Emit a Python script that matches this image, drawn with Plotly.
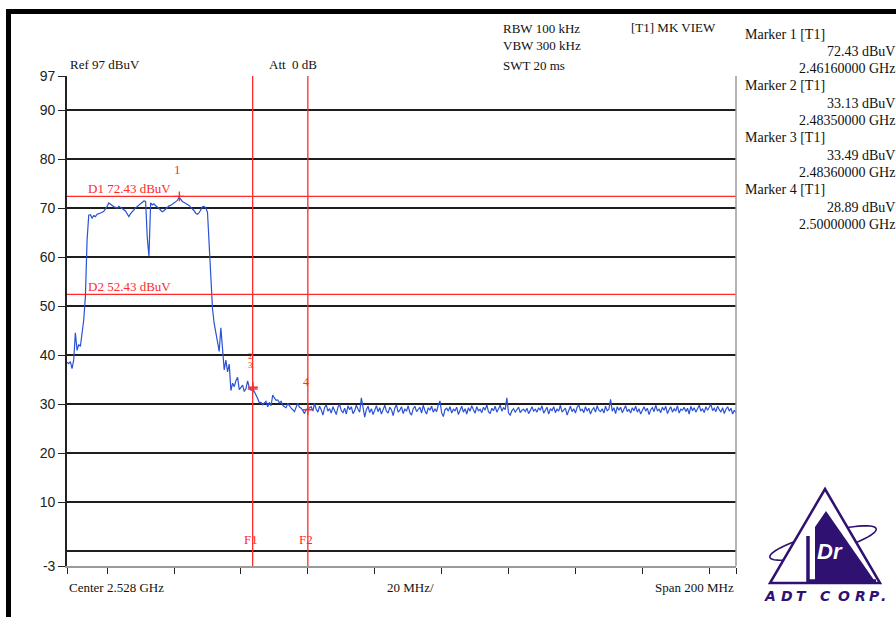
import numpy as np
import plotly.graph_objects as go

# ---------------- sweep data ----------------
center_ghz = 2.528
span_ghz = 0.200
step_ghz = 0.0005
start_ghz = center_ghz - span_ghz / 2

# trace level (dBuV), one value every 0.5 MHz from 2.428 GHz to 2.628 GHz
levels_dbuv = [
    38.6, 38.3, 38.7, 37.3, 39.0, 44.6, 41.0, 42.2, 41.8, 44.5,
    47.2, 52.0, 63.5, 68.6, 68.7, 68.0, 68.5, 68.3, 68.8, 68.9,
    69.0, 69.2, 69.4, 69.8, 70.4, 71.1, 70.8, 70.7, 70.3, 70.2,
    70.0, 70.4, 70.2, 70.0, 69.7, 69.4, 68.7, 68.3, 68.9, 69.4,
    69.7, 70.1, 70.4, 70.6, 70.9, 71.2, 71.5, 71.4, 64.0, 60.2,
    71.1, 70.7, 70.9, 70.5, 70.3, 70.0, 69.6, 69.3, 69.5, 69.9,
    70.3, 70.5, 70.6, 70.9, 71.1, 71.4, 71.6, 72.3, 71.8, 71.4,
    71.2, 71.0, 70.8, 70.6, 70.2, 69.9, 69.5, 69.0, 68.8, 69.1,
    69.6, 70.3, 70.4, 70.0, 69.2, 63.0, 55.0, 49.5, 46.5, 44.6,
    43.2, 40.8, 45.6, 41.0, 37.0, 39.0, 36.6, 38.2, 32.8, 34.3,
    33.6, 34.8, 35.5, 33.0, 33.6, 33.9, 32.6, 33.2, 34.8, 33.4,
    32.9, 33.1, 32.6, 32.0, 31.2, 30.3, 30.4, 29.9, 30.2, 30.6,
    29.5, 30.4, 29.7, 31.9, 31.3, 30.8, 30.9, 30.3, 30.6, 29.8,
    29.5, 29.3, 30.2, 29.6, 29.2, 28.9, 28.5, 29.4, 30.2, 29.4,
    29.2, 28.7, 28.1, 29.0, 28.9, 29.3, 29.5, 28.6, 30.2, 29.0,
    28.4, 29.6, 28.9, 27.8, 29.3, 29.9, 28.6, 29.1, 28.2, 29.5,
    28.8, 27.9, 29.4, 30.0, 28.7, 28.3, 29.2, 28.0, 29.7, 28.9,
    29.5, 28.1, 28.7, 29.8, 29.0, 28.4, 31.3, 28.8, 27.4, 28.9,
    29.6, 28.3, 29.1, 27.9, 28.8, 29.7, 28.5, 29.3, 28.0, 29.0,
    29.8, 28.6, 28.2, 29.4, 28.9, 27.7, 29.2, 29.9, 28.4, 28.8,
    29.5, 28.1, 29.0, 28.6, 29.7, 28.3, 27.8, 29.1, 29.6, 28.5,
    28.9, 29.4, 28.2, 29.8, 28.7, 28.0, 29.3, 28.8, 29.6, 28.4,
    29.1, 28.5, 29.9, 30.7, 28.3, 27.5, 28.9, 29.2, 28.6, 29.5,
    28.2, 29.0, 28.7, 29.4, 27.9, 28.8, 29.6, 28.4, 29.1, 28.0,
    29.3, 28.6, 29.7, 28.9, 28.2, 29.5, 28.7, 29.0, 28.3, 29.4,
    28.8, 29.9, 28.5, 28.1, 29.2, 28.7, 29.6, 28.4, 29.0, 29.8,
    28.6, 29.3, 28.9, 31.3, 28.2, 27.8, 28.7, 29.1, 28.4, 28.9,
    29.4, 28.3, 28.8, 29.0, 28.5, 29.2, 28.1, 28.7, 29.5, 28.6,
    29.0, 28.4, 29.3, 28.8, 29.7, 28.2, 28.9, 29.4, 28.0, 29.1,
    28.7, 29.5, 28.3, 29.0, 28.6, 29.8, 28.4, 28.9, 29.2, 27.8,
    28.8, 29.6, 28.5, 29.1, 28.2, 29.4, 29.9, 28.7, 29.0, 28.3,
    29.5, 28.6, 29.2, 28.0, 28.9, 29.3, 28.4, 29.7, 28.8, 28.5,
    29.1, 28.2, 29.6, 28.7, 29.0, 31.0, 28.6, 29.3, 28.1, 29.5,
    28.8, 29.4, 28.3, 28.9, 29.7, 28.5, 29.0, 28.2, 29.3, 28.7,
    29.6, 28.4, 29.1, 28.0, 28.8, 29.5, 28.6, 29.2, 27.9, 28.9,
    29.3, 28.5, 29.8, 28.7, 29.0, 28.3, 29.4, 28.8, 29.6, 28.1,
    28.9, 29.5, 28.4, 29.1, 28.6, 29.7, 28.2, 29.0, 28.8, 29.4,
    28.5, 29.2, 28.0, 29.6, 28.7, 29.3, 28.4, 29.0, 29.8, 28.6,
    29.1, 28.3, 29.5, 28.8, 29.4, 30.0, 28.7, 29.2, 28.5, 29.6,
    28.9, 28.4, 29.3, 28.1, 29.0, 29.5, 28.6, 29.2, 28.0, 28.8,
    28.3,
]
assert len(levels_dbuv) == 401
freq_ghz = start_ghz + step_ghz * np.arange(len(levels_dbuv))

# markers
marker_names = ["1", "2", "3", "4"]
marker_freq_ghz = [2.4616, 2.4835, 2.4836, 2.5000]
marker_level_dbuv = [72.43, 33.13, 33.49, 28.89]

# display lines and frequency lines
display_line_names = ["D1", "D2"]
display_line_dbuv = [72.43, 52.43]
freq_line_names = ["F1", "F2"]
freq_line_ghz = [2.4835, 2.5000]

# axes
y_range = [-3, 97]
y_tick_vals = [-3, 10, 20, 30, 40, 50, 60, 70, 80, 90, 97]
x_tick_vals = [2.428, 2.44, 2.46, 2.48, 2.50, 2.52, 2.54, 2.56, 2.58, 2.60, 2.62, 2.628]

# ---------------- page geometry ----------------
W, H = 896, 617
L, R, T, B = 67, 160, 76, 51
PW, PH = W - L - R, H - T - B


def px(x):
    return (x - L) / PW


def py(y):
    return (H - B - y) / PH


RED = "#ff2a2a"
BLUE = "#2a52d6"
GRID = "#1e1e1e"
PURPLE = "#2e1170"
SERIF = "Liberation Serif, Times New Roman, serif"
SANS = "Liberation Sans, Arial, sans-serif"

fig = go.Figure()

fig.add_trace(go.Scatter(
    x=freq_ghz, y=levels_dbuv, mode="lines",
    line=dict(color=BLUE, width=1.2), hoverinfo="skip", showlegend=False,
))

fig.add_trace(go.Scatter(
    x=marker_freq_ghz, y=marker_level_dbuv, mode="markers",
    marker=dict(symbol="cross-thin", size=7, line=dict(color=RED, width=1.4)),
    hoverinfo="skip", showlegend=False,
))

shapes = []
annotations = []

# horizontal display lines with labels
for name, lvl in zip(display_line_names, display_line_dbuv):
    shapes.append(dict(type="line", xref="paper", yref="y", x0=0, x1=1, y0=lvl, y1=lvl,
                       line=dict(color=RED, width=1.3), layer="above"))
    annotations.append(dict(text=f"{name} {lvl:.2f} dBuV", xref="paper", yref="y",
                            x=px(86), y=lvl, xanchor="left", yanchor="middle", yshift=8,
                            showarrow=False, font=dict(family=SERIF, size=13, color=RED)))

# vertical frequency lines with labels
for name, f in zip(freq_line_names, freq_line_ghz):
    shapes.append(dict(type="line", xref="x", yref="paper", x0=f, x1=f, y0=0, y1=1,
                       line=dict(color=RED, width=1.3), layer="above"))
    annotations.append(dict(text=name, xref="x", yref="paper", x=f, y=py(539),
                            xanchor="center", yanchor="middle", xshift=-2,
                            showarrow=False, font=dict(family=SERIF, size=13, color=RED)))

# marker numbers above the marker points
label_shift = {"1": 27, "2": 33, "3": 22, "4": 28}
label_size = {"1": 13, "2": 9, "3": 9, "4": 12}
for name, f, lvl in zip(marker_names, marker_freq_ghz, marker_level_dbuv):
    annotations.append(dict(text=name, xref="x", yref="y", x=f, y=lvl,
                            xanchor="center", yanchor="middle", yshift=label_shift[name], xshift=-2,
                            showarrow=False, font=dict(family=SERIF, size=label_size[name], color=RED)))

# right-hand border of the graticule
shapes.append(dict(type="line", xref="paper", yref="paper", x0=1, x1=1, y0=0, y1=1,
                   line=dict(color="#9a9a9a", width=1.5), layer="above"))

# black page frame
shapes.append(dict(type="rect", xref="paper", yref="paper", x0=px(6), x1=px(W), y0=py(14), y1=py(9),
                   fillcolor="black", line=dict(width=0)))
shapes.append(dict(type="rect", xref="paper", yref="paper", x0=px(6), x1=px(11), y0=py(H), y1=py(9),
                   fillcolor="black", line=dict(width=0)))


def text(t, x, y, xanchor="left", size=13, color="#111", family=SERIF, **kw):
    annotations.append(dict(text=t, xref="paper", yref="paper", x=px(x), y=py(y),
                            xanchor=xanchor, yanchor="middle", showarrow=False,
                            font=dict(family=family, size=size, color=color), **kw))


# instrument settings
text("Ref 97 dBuV", 68, 65)
text("Att  0 dB", 267, 65)
text("RBW 100 kHz", 501, 29)
text("VBW 300 kHz", 501, 46)
text("SWT 20 ms", 501, 66)
text("[T1] MK VIEW", 629, 28)

# marker readout column
row = 0
for name, f, lvl in zip(marker_names, marker_freq_ghz, marker_level_dbuv):
    y0 = 34 + 17.3 * row
    text(f"Marker {name} [T1]", 743, y0, size=14)
    text(f"{lvl:.2f} dBuV", 897, y0 + 17.3, xanchor="right", size=14)
    text(f"{f:.8f} GHz", 897, y0 + 34.6, xanchor="right", size=14)
    row += 3

# frequency axis captions
text("Center 2.528 GHz", 67, 587, size=13)
text("20 MHz/", 410, 587, xanchor="center", size=13)
text("Span 200 MHz", 736, 587, xanchor="right", size=13)

# ---------------- logo ----------------
th = np.deg2rad(15)
t = np.linspace(0, 2 * np.pi, 73)
ex = 823 + 55 * np.cos(t) * np.cos(th) - 10 * np.sin(t) * np.sin(th)
ey = 543 - (55 * np.cos(t) * np.sin(th) + 10 * np.sin(t) * np.cos(th))
orbit = "M " + " L ".join(f"{px(a):.5f},{py(b):.5f}" for a, b in zip(ex, ey)) + " Z"
shapes.append(dict(type="path", xref="paper", yref="paper", path=orbit,
                   line=dict(color=PURPLE, width=1.6)))


def poly(points):
    return "M " + " L ".join(f"{px(a):.5f},{py(b):.5f}" for a, b in points) + " Z"


shapes.append(dict(type="path", xref="paper", yref="paper",
                   path=poly([(825, 489), (880, 583), (770, 583)]),
                   fillcolor="white", line=dict(color=PURPLE, width=2.5)))
shapes.append(dict(type="path", xref="paper", yref="paper",
                   path=poly([(826, 511), (874, 580), (815, 580), (815, 527)]),
                   fillcolor=PURPLE, line=dict(width=0)))
shapes.append(dict(type="path", xref="paper", yref="paper",
                   path="M {:.5f},{:.5f} L {:.5f},{:.5f} L {:.5f},{:.5f}".format(
                       px(808), py(536), px(808), py(581), px(876), py(581)),
                   line=dict(color=PURPLE, width=3.5)))
text("<b><i>Dr</i></b>", 830, 551, xanchor="center", size=22, color="white", family=SANS)
for ch, cx in zip("ADTCORP.", [770, 786.5, 801.5, 825.5, 843.5, 860, 874, 883]):
    text(f"<b><i>{ch}</i></b>", cx, 596, xanchor="center", size=14, color=PURPLE,
         family="DejaVu Sans, sans-serif")

fig.update_layout(
    width=W, height=H, autosize=False,
    margin=dict(l=L, r=R, t=T, b=B, pad=0),
    paper_bgcolor="white", plot_bgcolor="white",
    shapes=shapes, annotations=annotations, showlegend=False,
    xaxis=dict(
        range=[start_ghz, start_ghz + span_ghz], tickvals=x_tick_vals, showticklabels=False,
        ticks="outside", ticklen=6, tickwidth=1.3, tickcolor="#222",
        showgrid=False, zeroline=False,
        showline=True, linecolor="#9a9a9a", linewidth=1.5,
    ),
    yaxis=dict(
        range=y_range, tickvals=y_tick_vals, ticktext=[str(v) for v in y_tick_vals],
        ticks="outside", ticklen=7, tickwidth=1.3, tickcolor="#222",
        tickfont=dict(family=SANS, size=14, color="#222"),
        showgrid=True, gridcolor=GRID, gridwidth=1.6,
        minor=dict(tickvals=[0], showgrid=True, gridcolor=GRID, gridwidth=1.6, ticks=""),
        zeroline=False, showline=True, linecolor="#222", linewidth=1.6,
    ),
)

fig.write_html("out.html")
